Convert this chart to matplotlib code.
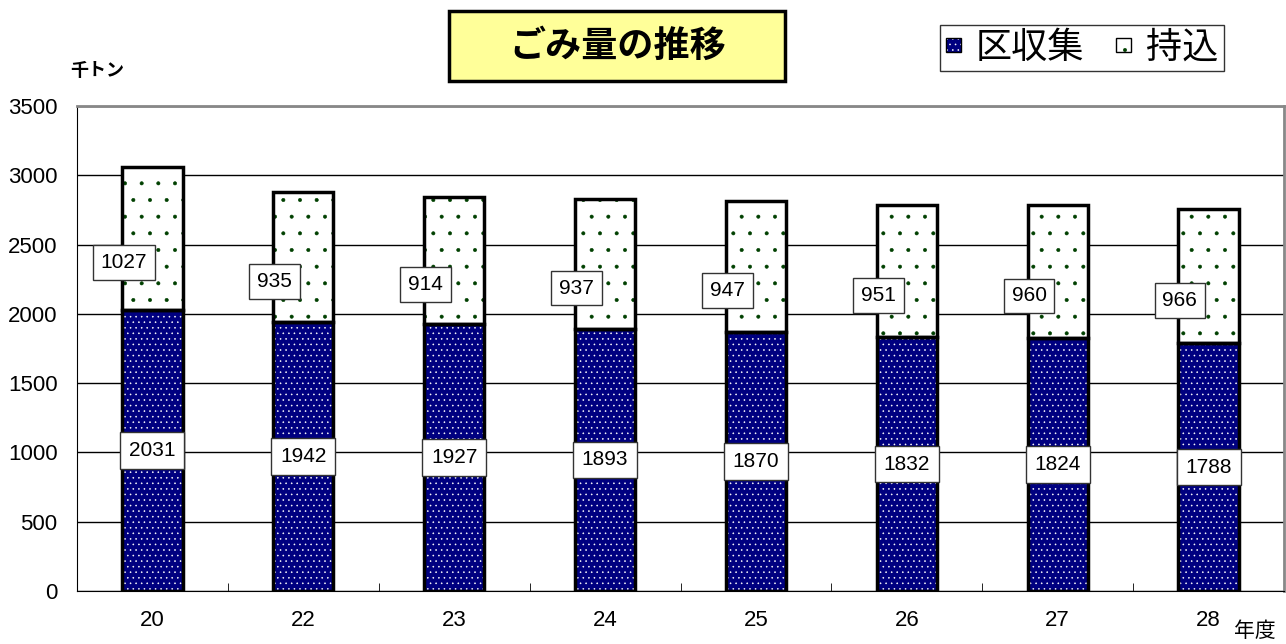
import numpy as np
import matplotlib.pyplot as plt
from matplotlib.patches import Patch, Rectangle
from matplotlib.legend_handler import HandlerTuple

plt.rcParams['font.family'] = ['Noto Sans CJK JP', 'DejaVu Sans']
plt.rcParams['hatch.linewidth'] = 0.4

# 年度
nendo = ["20", "22", "23", "24", "25", "26", "27", "28"]
# 区収集 (千トン)
kushushu = [2031, 1942, 1927, 1893, 1870, 1832, 1824, 1788]
# 持込 (千トン)
mochikomi = [1027, 935, 914, 937, 947, 951, 960, 966]

num_font = ['Liberation Sans', 'DejaVu Sans']

fig = plt.figure(figsize=(12.86, 6.44), dpi=100)
ax = fig.add_axes([77 / 1286, 1 - 591 / 644, (1284 - 77) / 1286, (591 - 106) / 644])

x = np.arange(len(nendo))
w = 0.4

# 塗りとドット(ハッチ)を先に、枠線を後から描く
ax.bar(x, kushushu, w, color="#000080", edgecolor="white", hatch="...", linewidth=0, zorder=2)
ax.bar(x, mochikomi, w, bottom=kushushu, color="white", edgecolor="#004000", hatch=".", linewidth=0, zorder=2)
ax.bar(x, kushushu, w, color="none", edgecolor="black", linewidth=2.5, zorder=3)
ax.bar(x, mochikomi, w, bottom=kushushu, color="none", edgecolor="black", linewidth=2.5, zorder=3)

for i in range(len(nendo)):
    ax.text(x[i], kushushu[i] / 2, str(kushushu[i]), ha="center", va="center",
            fontsize=15, family=num_font, zorder=4,
            bbox=dict(boxstyle="square,pad=0.42", facecolor="white", edgecolor="#333333", linewidth=1))
    ax.text(x[i] - 0.19, kushushu[i] + mochikomi[i] / 2 - 175, str(mochikomi[i]),
            ha="center", va="center", fontsize=15, family=num_font, zorder=4,
            bbox=dict(boxstyle="square,pad=0.38", facecolor="white", edgecolor="#333333", linewidth=1))

ax.set_xlim(-0.5, len(nendo) - 0.5)
ax.set_ylim(0, 3500)
ax.set_yticks(range(0, 3501, 500))
ax.set_yticklabels([str(v) for v in range(0, 3501, 500)], family=num_font, fontsize=16)
ax.yaxis.grid(True, color="black", linewidth=1)
ax.set_axisbelow(True)
ax.tick_params(axis="y", length=0, pad=14)

ax.set_xticks(x)
ax.set_xticklabels(nendo, family=num_font, fontsize=16)
ax.tick_params(axis="x", length=0, pad=14)
ax.set_xticks(np.arange(0.5, len(nendo) - 0.5, 1), minor=True)
ax.tick_params(axis="x", which="minor", direction="in", length=6, color="black")

ax.spines["left"].set_color("black")
ax.spines["bottom"].set_color("black")
ax.spines["top"].set_color("#888888")
ax.spines["right"].set_color("#888888")
ax.spines["top"].set_linewidth(2)
ax.spines["right"].set_linewidth(2)

fig.text(97 / 1286, 1 - 70 / 644, "千トン", fontsize=13, fontweight="bold", ha="center", va="center")
fig.text(1255 / 1286, 1 - 631 / 644, "年度", fontsize=15, ha="center", va="center")

# タイトル枠
fig.patches.append(Rectangle((449 / 1286, 1 - 81 / 644), 336 / 1286, 70 / 644,
                             transform=fig.transFigure, facecolor="#FFFF99",
                             edgecolor="black", linewidth=2.5, zorder=1))
fig.text(618 / 1286, 1 - 46 / 644, "ごみ量の推移", fontsize=26, fontweight="bold",
         ha="center", va="center", zorder=2)

# 凡例
h1 = (Patch(facecolor="#000080", edgecolor="white", hatch="...", linewidth=0),
      Patch(facecolor="none", edgecolor="black", linewidth=1))
h2 = (Patch(facecolor="white", edgecolor="#004000", hatch=".", linewidth=0),
      Patch(facecolor="none", edgecolor="black", linewidth=1))
leg = fig.legend([h1, h2], ["区収集", "持込"], loc="center",
                 bbox_to_anchor=(1082 / 1286, 1 - 48 / 644),
                 handler_map={tuple: HandlerTuple(ndivide=1)},
                 ncol=2, fontsize=26, frameon=True, fancybox=False, edgecolor="black",
                 handlelength=0.42, handleheight=0.2, handletextpad=0.4, columnspacing=0.9,
                 borderpad=0.15, borderaxespad=0)
leg.get_frame().set_linewidth(1)

fig.savefig("out.png", dpi=100)
